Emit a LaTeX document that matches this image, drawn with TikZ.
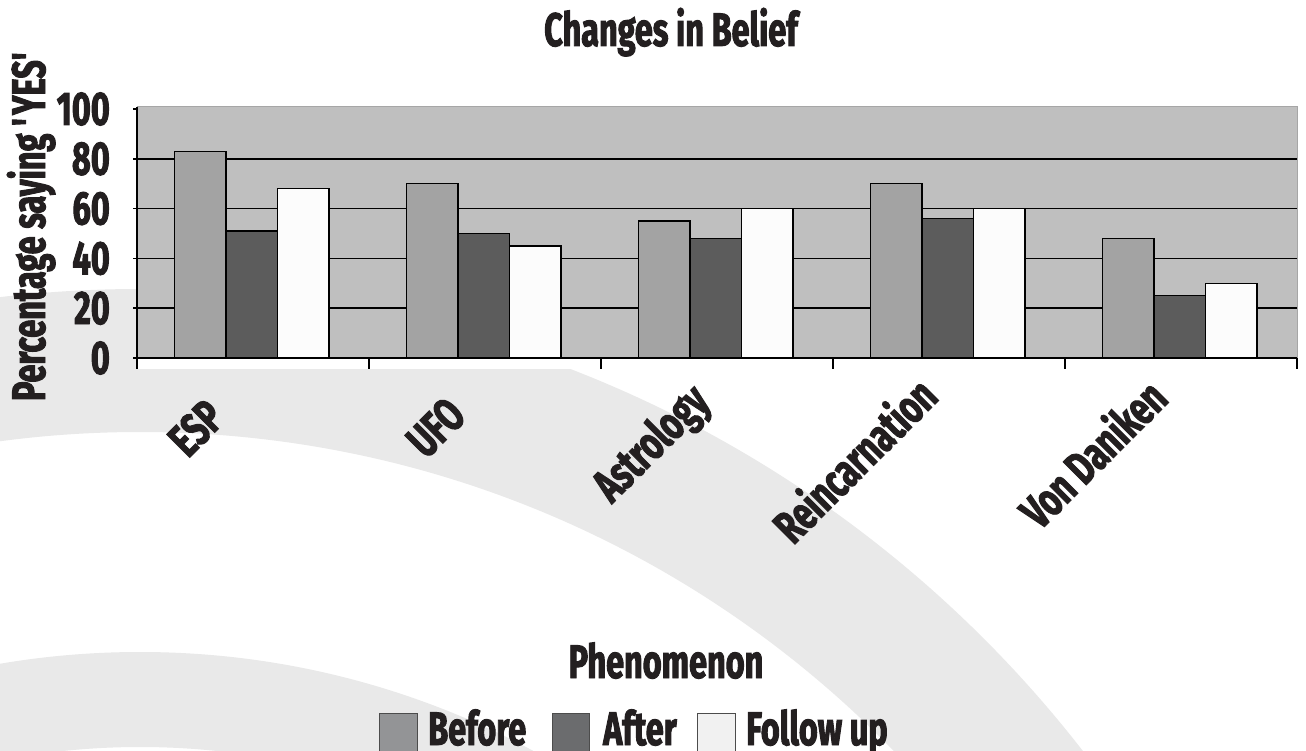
\documentclass[tikz,border=0pt]{standalone}
\usepackage{fontspec}
\setmainfont{Fira Sans}[FakeStretch=0.69,BoldFeatures={FakeBold=2}]
\definecolor{plotbg}{RGB}{191,191,191}
\definecolor{beforegray}{RGB}{163,163,163}
\definecolor{aftergray}{RGB}{92,92,92}
\definecolor{followgray}{RGB}{252,252,252}
\definecolor{swoosh}{RGB}{233,233,233}
\definecolor{inkblack}{RGB}{35,31,32}
\definecolor{keybefore}{RGB}{147,148,150}
\definecolor{keyafter}{RGB}{107,108,110}
\definecolor{keyfollow}{RGB}{241,241,241}
\tikzset{
  lbl/.style={font=\fontsize{47}{50}\selectfont\bfseries,text=inkblack,inner sep=0pt},
  catlbl/.style={lbl,rotate=45,anchor=north east,text height=0.7em,text depth=0.2em},
  bar/.style={draw=black,line width=1.5pt},
  keybox/.style={draw=black!70,line width=1pt},
}

\begin{document}
\begin{tikzpicture}[x=1pt,y=-1pt]
      \useasboundingbox (0,0) rectangle (1306,751);
      \clip (0,0) rectangle (1306,751);
      \fill[white] (0,0) rectangle (1306,751);
      % background swoosh
      \fill[swoosh,even odd rule] (140,1482) circle [radius=1193pt] (140,1482) circle [radius=1050pt];
      \fill[swoosh,even odd rule] (140,1482) circle [radius=830pt] (140,1482) circle [radius=735pt];
      % plot area
      \fill[white] (137,358) rectangle (1297,369);
      \filldraw[fill=plotbg,draw=black!35,line width=1pt] (137,107) rectangle (1297,358);
      \foreach \v in {20,40,60,80}
        \draw[line width=1.5pt] (137,358-2.49*\v) -- (1297,358-2.49*\v);
      % bars
      \foreach \i/\b/\a/\f in {0/83/51/68,1/70/50/45,2/55/48/60,3/70/56/60,4/48/25/30} {
        \pgfmathsetmacro{\cx}{251.5+232*\i}
        \filldraw[bar,fill=beforegray] (\cx-77.25,358) rectangle (\cx-25.75,358-2.49*\b);
        \filldraw[bar,fill=aftergray] (\cx-25.75,358) rectangle (\cx+25.75,358-2.49*\a);
        \filldraw[bar,fill=followgray] (\cx+25.75,358) rectangle (\cx+77.25,358-2.49*\f);
      }
      % axes
      \draw[line width=1.5pt] (137,107) -- (137,369);
      \draw[line width=1.5pt] (137,358) -- (1297,358);
      \foreach \i in {1,...,5}
        \draw[line width=1.5pt] (137+232*\i,358) -- (137+232*\i,369);
      \foreach \v in {0,20,...,100}
        \draw[line width=1.5pt] (133,358-2.49*\v) -- (137,358-2.49*\v);
      \foreach \v in {0,20,...,100}
        \node[lbl,anchor=east] (tick\v) at (110,358-2.49*\v) {\v};
      % titles
      \node[lbl,anchor=base] (title) at (671,46) {Changes in Belief};
      \node[lbl,rotate=90,anchor=base] (ytitle) at (45,225) {Percentage saying \textquotesingle YES\textquotesingle};
      \node[lbl,anchor=base] (xtitle) at (666,678) {Phenomenon};
      % categories
      \foreach \name/\x/\y/\txt in {esp/222/415/ESP,ufo/463/413/UFO,astro/707/399/Astrology,reinc/935/394/Reincarnation,vond/1165/396/Von Daniken}
        \node[catlbl] (cat-\name) at (\x,\y) {\txt};
      % legend
      \filldraw[keybox,fill=keybefore] (379,713) rectangle (417,760);
      \node[lbl,anchor=base west] (key-before) at (428,745) {Before};
      \filldraw[keybox,fill=keyafter] (552,713) rectangle (589,760);
      \node[lbl,anchor=base west] (key-after) at (603,745) {After};
      \filldraw[keybox,fill=keyfollow] (697,713) rectangle (735,760);
      \node[lbl,anchor=base west] (key-follow) at (746,745) {Follow up};
\end{tikzpicture}
\end{document}
